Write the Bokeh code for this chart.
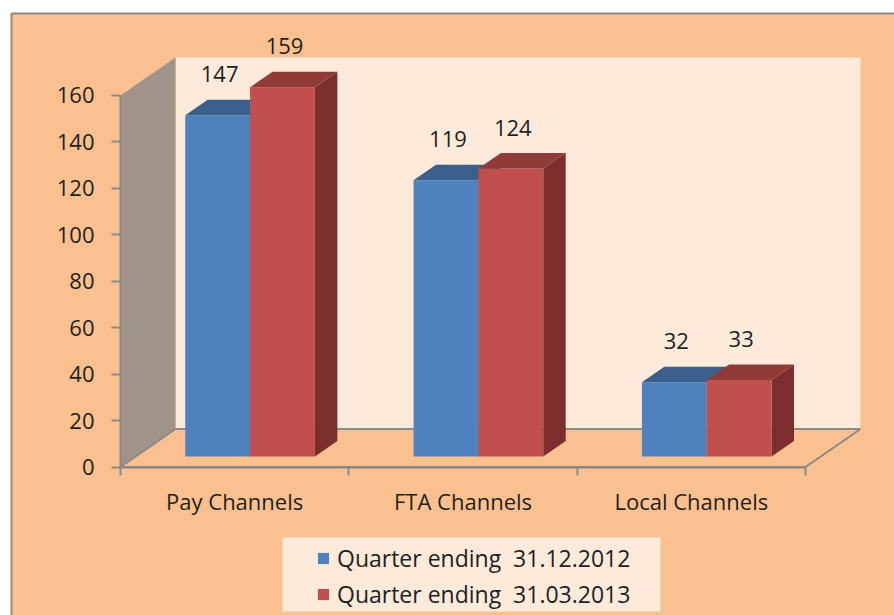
from bokeh.plotting import figure
from bokeh.models import Range1d, FixedTicker, Legend, LegendItem, LinearAxis, ColumnDataSource
from bokeh.core.properties import value
from bokeh.embed import file_html
from bokeh.resources import INLINE

# ---------------- data ----------------
categories = ["Pay Channels", "FTA Channels", "Local Channels"]
series_names = ["Quarter ending  31.12.2012", "Quarter ending  31.03.2013"]
q_dec_2012 = [147, 119, 32]
q_mar_2013 = [159, 124, 33]
y_ticks = [0, 20, 40, 60, 80, 100, 120, 140, 160]

series_values = [q_dec_2012, q_mar_2013]

# ---------------- layout / style constants ----------------
W, H = 894, 615
CANVAS_X, CANVAS_Y = 0, 0
ORIGIN_SX, ORIGIN_SY = 120, 466.5     # screen position of (category 0, value 0)
PX_PER_CAT = 228.33
PX_PER_VAL = 2.322
DEPTH_PX_X, DEPTH_PX_Y = 55, 38       # oblique depth of the floor

FONT = "Open Sans"
FS = "22px"
FS_LEG = "23px"
TXT = "#1f1f1f"
BG = "#FAC090"
WALL = "#FDEADA"
SIDE_WALL = "#A0948A"
EDGE = "#8A8A8A"
FRONT = ["#4F81BD", "#C0504D"]
TOP = ["#3B5F8D", "#913B39"]
SIDE = ["#30507A", "#7C2E2D"]


def sx(px):
    return (px - ORIGIN_SX) / PX_PER_CAT


def sy(px):
    return (ORIGIN_SY - px) / PX_PER_VAL


DX = DEPTH_PX_X / PX_PER_CAT
DY = DEPTH_PX_Y / PX_PER_VAL
Z0, Z1 = 0.276, 0.684          # bar depth span (fraction of floor depth)
GROUP_LEFT, BAR_W = 0.217, 0.284
LABEL_OFF = 22.2               # data-label offset above bar (value units)

n = len(categories)
vmax = y_ticks[-1]

p = figure(width=W, height=H, output_backend="svg", toolbar_location=None,
           x_range=Range1d(sx(CANVAS_X), sx(CANVAS_X + W)),
           y_range=Range1d(sy(CANVAS_Y + H), sy(CANVAS_Y)),
           x_axis_type=None, y_axis_type=None, min_border=0)
p.background_fill_color = "white"
p.border_fill_color = "white"
p.outline_line_color = None

# chart area
p.quad(left=[sx(11)], right=[sx(CANVAS_X + W) + 1], bottom=[sy(CANVAS_Y + H) - 1], top=[sy(13)],
       fill_color=BG, line_color=EDGE, line_width=2)

# walls and floor
p.patch([DX, n + DX, n + DX, DX], [DY, DY, vmax + DY, vmax + DY], fill_color=WALL, line_color=None)
p.patch([0, DX, DX, 0], [0, DY, vmax + DY, vmax], fill_color=SIDE_WALL, line_color=None)
p.patch([0, n, n + DX, DX], [0, 0, DY, DY], fill_color=BG, line_color=EDGE, line_width=2)

# legend background
p.quad(left=[sx(282)], right=[sx(660)], top=[sy(537)], bottom=[sy(611)], fill_color=WALL, line_color=None)

front_renderers = []
for s, vals in enumerate(series_values):
    x0 = [i + GROUP_LEFT + s * BAR_W for i in range(n)]
    x1 = [a + BAR_W for a in x0]
    side_xs = [[b + Z0 * DX, b + Z1 * DX, b + Z1 * DX, b + Z0 * DX] for b in x1]
    side_ys = [[Z0 * DY, Z1 * DY, v + Z1 * DY, v + Z0 * DY] for v in vals]
    p.patches(side_xs, side_ys, fill_color=SIDE[s], line_color=None)
    src = ColumnDataSource(dict(left=[a + Z0 * DX for a in x0], right=[b + Z0 * DX for b in x1],
                                bottom=[Z0 * DY] * n, top=[v + Z0 * DY for v in vals]))
    fr = p.quad(left="left", right="right", bottom="bottom", top="top", source=src,
                fill_color=FRONT[s], line_color=None)
    front_renderers.append(fr)
    top_xs = [[a + Z0 * DX, b + Z0 * DX, b + Z1 * DX, a + Z1 * DX] for a, b in zip(x0, x1)]
    top_ys = [[v + Z0 * DY, v + Z0 * DY, v + Z1 * DY, v + Z1 * DY] for v in vals]
    p.patches(top_xs, top_ys, fill_color=TOP[s], line_color=None)
    p.text(x=[(a + b) / 2 + Z0 * DX + 2 / PX_PER_CAT for a, b in zip(x0, x1)],
           y=[v + LABEL_OFF for v in vals], text=[str(v) for v in vals],
           text_align="center", text_baseline="middle", text_font=value(FONT),
           text_font_size=FS, text_color=TXT)

# value axis
yaxis = LinearAxis(fixed_location=0, bounds=(0, vmax),
                   ticker=FixedTicker(ticks=y_ticks, minor_ticks=[]),
                   major_tick_in=0, major_tick_out=9, minor_tick_in=0, minor_tick_out=0,
                   major_label_standoff=17, axis_line_color=EDGE, axis_line_width=2,
                   major_tick_line_color=EDGE, major_tick_line_width=2,
                   major_label_text_font=FONT, major_label_text_font_size=FS,
                   major_label_text_color=TXT)
p.add_layout(yaxis, "left")

# category axis
xaxis = LinearAxis(fixed_location=0, bounds=(0, n),
                   ticker=FixedTicker(ticks=[i + 0.5 for i in range(n)], minor_ticks=list(range(n + 1))),
                   major_tick_in=0, major_tick_out=0, minor_tick_in=0, minor_tick_out=8,
                   major_label_overrides={i + 0.5: c for i, c in enumerate(categories)},
                   major_label_standoff=11, axis_line_color=EDGE, axis_line_width=2,
                   minor_tick_line_color=EDGE, minor_tick_line_width=2,
                   major_label_text_font=FONT, major_label_text_font_size=FS,
                   major_label_text_color=TXT)
p.add_layout(xaxis, "below")

legend = Legend(items=[LegendItem(label=series_names[k], renderers=[front_renderers[k]]) for k in range(2)],
                location=(316 - CANVAS_X, 5), padding=0, spacing=4, glyph_width=14, glyph_height=14,
                label_standoff=7, label_height=28, label_text_font=FONT, label_text_font_size=FS_LEG,
                label_text_color=TXT, background_fill_alpha=0, border_line_color=None, margin=0)
p.add_layout(legend)

open("out.html", "w").write(file_html(p, INLINE))
